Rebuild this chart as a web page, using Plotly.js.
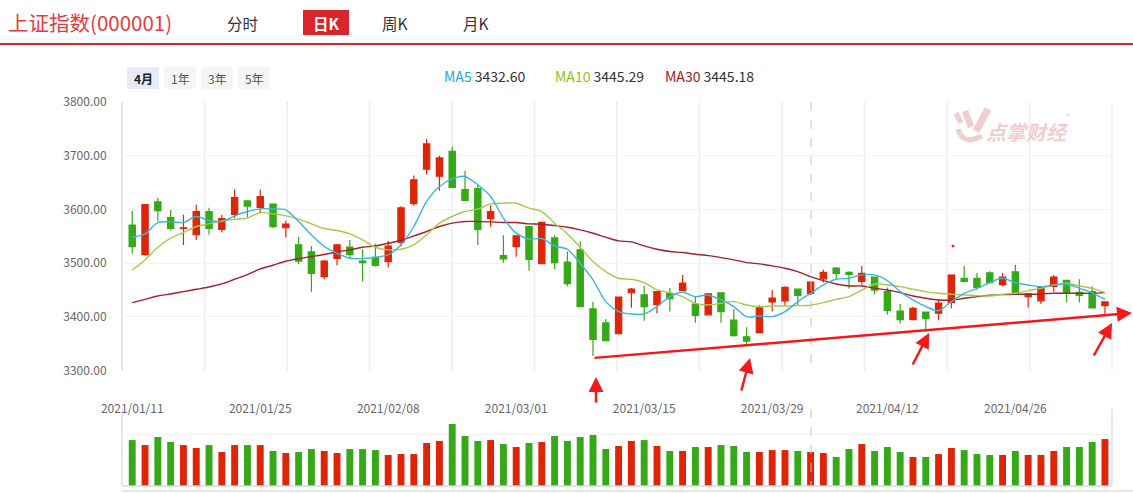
<!DOCTYPE html>
<html><head><meta charset="utf-8">
<script src="https://cdn.plot.ly/plotly-3.0.1.min.js"></script>
<style>html,body{margin:0;padding:0;background:#fff;}#chart{width:1133px;height:493px;}</style>
</head><body><div id="chart"></div>
<script>
const titleText = '上证指数(000001)';
const tabs = ['分时', '日K', '周K', '月K'];
const periodButtons = ['4月', '1年', '3年', '5年'];
const legendNames = ['MA5', 'MA10', 'MA30'];
const legendValues = ['3432.60', '3445.29', '3445.18'];
const brandText = '点掌财经';

const dates = [
 '2021/01/11','2021/01/12','2021/01/13','2021/01/14','2021/01/15','2021/01/18','2021/01/19','2021/01/20','2021/01/21','2021/01/22',
 '2021/01/25','2021/01/26','2021/01/27','2021/01/28','2021/01/29','2021/02/01','2021/02/02','2021/02/03','2021/02/04','2021/02/05',
 '2021/02/08','2021/02/09','2021/02/10','2021/02/18','2021/02/19','2021/02/22','2021/02/23','2021/02/24','2021/02/25','2021/02/26',
 '2021/03/01','2021/03/02','2021/03/03','2021/03/04','2021/03/05','2021/03/08','2021/03/09','2021/03/10','2021/03/11','2021/03/12',
 '2021/03/15','2021/03/16','2021/03/17','2021/03/18','2021/03/19','2021/03/22','2021/03/23','2021/03/24','2021/03/25','2021/03/26',
 '2021/03/29','2021/03/30','2021/03/31','2021/04/01','2021/04/02','2021/04/06','2021/04/07','2021/04/08','2021/04/09','2021/04/12',
 '2021/04/13','2021/04/14','2021/04/15','2021/04/16','2021/04/19','2021/04/20','2021/04/21','2021/04/22','2021/04/23','2021/04/26',
 '2021/04/27','2021/04/28','2021/04/29','2021/04/30','2021/05/06','2021/05/07','2021/05/10'];

const openP = [3571,3516,3614,3585,3565,3553,3596,3563,3591,3616,
 3604,3610,3566,3534,3521,3475,3509,3530,3504,3511,
 3503,3539,3611,3675,3662,3708,3637,3639,3583,3514,
 3531,3568,3499,3547,3502,3525,3415,3389,3369,3445,
 3441,3423,3444,3449,3424,3404,3445,3394,3363,3371,
 3428,3430,3452,3444,3471,3491,3483,3466,3474,3447,
 3411,3395,3409,3407,3427,3472,3472,3482,3460,3484,
 3438,3430,3457,3468,3446,3447,3421];
const highP = [3597,3610,3622,3599,3590,3609,3603,3590,3637,3617,
 3637,3611,3579,3549,3532,3506,3536,3543,3526,3536,
 3542,3606,3663,3731,3700,3717,3672,3646,3608,3552,
 3552,3569,3577,3552,3522,3540,3428,3396,3438,3454,
 3458,3448,3454,3478,3439,3444,3445,3415,3381,3422,
 3450,3457,3452,3466,3488,3493,3485,3495,3475,3455,
 3424,3419,3410,3432,3478,3495,3482,3485,3482,3497,
 3443,3458,3478,3469,3470,3457,3428];
const lowP = [3518,3514,3578,3561,3534,3543,3553,3557,3584,3585,
 3593,3565,3548,3498,3447,3470,3496,3509,3466,3494,
 3492,3531,3607,3665,3635,3640,3616,3534,3568,3501,
 3512,3486,3499,3489,3457,3419,3328,3355,3368,3417,
 3393,3407,3410,3448,3389,3404,3389,3363,3346,3370,
 3410,3422,3422,3441,3464,3471,3453,3460,3442,3404,
 3388,3394,3373,3394,3416,3464,3450,3463,3457,3443,
 3417,3424,3447,3427,3427,3417,3403];
const closeP = [3531,3609,3598,3565,3566,3596,3565,3583,3622,3606,
 3624,3568,3573,3504,3481,3504,3534,3516,3501,3496,
 3532,3603,3655,3722,3696,3641,3617,3563,3596,3508,
 3551,3507,3576,3501,3462,3419,3358,3356,3437,3452,
 3419,3447,3434,3463,3403,3443,3410,3365,3355,3417,
 3435,3455,3440,3465,3483,3481,3479,3481,3450,3412,
 3395,3416,3397,3426,3478,3466,3455,3464,3474,3444,
 3443,3456,3474,3445,3440,3417,3428];
const volume = [358,319,382,343,319,296,319,265,319,319,
 319,273,257,265,288,273,257,288,288,280,
 242,249,249,335,351,483,390,351,358,327,
 304,335,343,390,351,382,397,288,312,351,
 358,312,273,273,304,304,319,312,265,265,
 280,280,273,265,257,226,288,327,273,304,
 265,226,226,249,296,280,249,242,242,273,
 242,242,273,304,304,343,366];
const ma5 = [3548.4,3554.6,3575.7,3577.0,3575.7,3586.9,3579.4,3577.6,3588.1,3596.2,
 3601.2,3601.2,3599.3,3577.6,3552.7,3531.0,3518.6,3509.2,3508.6,3511.1,
 3515.5,3534.1,3568.3,3614.9,3642.8,3657.1,3661.4,3645.9,3624.2,3584.0,
 3556.0,3544.7,3545.9,3532.2,3526.0,3499.9,3468.9,3428.5,3410.0,3405.5,
 3405.5,3419.2,3437.8,3445.9,3437.8,3440.9,3431.6,3419.2,3400.5,3401.8,
 3400.5,3409.9,3428.5,3444.0,3459.5,3470.1,3472.0,3478.2,3478.2,3467.6,
 3447.1,3431.6,3419.2,3411.7,3428.5,3444.0,3453.3,3463.9,3472.0,3463.9,
 3459.5,3456.4,3459.5,3461.4,3453.3,3445.0,3432.6];
const ma10 = [3487.5,3506.1,3529.7,3546.5,3557.1,3568.3,3573.2,3578.8,3581.9,3583.8,
 3594.4,3591.9,3588.1,3581.9,3573.2,3564.5,3560.8,3554.6,3543.4,3529.7,
 3524.8,3526.0,3534.1,3552.7,3574.5,3586.9,3596.2,3600.6,3610.5,3611.7,
 3611.7,3602.4,3596.2,3574.5,3554.6,3529.7,3503.0,3484.4,3472.0,3470.1,
 3463.9,3450.2,3445.3,3437.8,3425.4,3422.3,3425.4,3428.5,3422.3,3419.2,
 3420.4,3420.4,3421.0,3421.7,3426.6,3432.8,3437.8,3450.0,3461.4,3459.5,
 3456.4,3451.5,3447.1,3444.0,3442.2,3440.9,3439.7,3439.1,3442.2,3444.0,
 3449.0,3453.3,3459.5,3462.7,3457.7,3453.3,3445.3];
const ma30 = [3426.6,3432.8,3439.0,3442.8,3447.1,3451.5,3455.8,3461.4,3470.1,3478.8,
 3489.4,3496.2,3503.7,3508.6,3512.4,3516.1,3521.0,3524.8,3529.7,3532.2,
 3537.2,3542.2,3550.9,3559.0,3568.3,3574.5,3577.6,3577.6,3577.0,3575.7,
 3575.7,3573.2,3572.6,3570.1,3567.0,3562.0,3555.8,3548.4,3541.5,3539.7,
 3532.2,3526.0,3521.7,3519.8,3516.7,3514.2,3510.5,3506.1,3501.2,3498.7,
 3495.0,3490.6,3484.4,3475.1,3467.6,3461.4,3457.7,3457.7,3453.3,3450.2,
 3445.3,3439.0,3434.7,3431.6,3431.6,3434.7,3437.8,3440.3,3441.5,3442.2,
 3442.2,3442.8,3444.0,3444.0,3444.0,3444.0,3445.2];
const tickDates = ['2021/01/11','2021/01/25','2021/02/08','2021/03/01','2021/03/15','2021/03/29','2021/04/12','2021/04/26'];
const priceTicks = [3300,3400,3500,3600,3700,3800];

const RED = '#de2508', GREEN = '#35a917';
const C_MA5 = '#3db6dc', C_MA10 = '#a7ca4e', C_MA30 = '#a2212a';
const L_MA = ['#29a6d6', '#8cc21d', '#9c1b1b'];
const ARROW = '#f41818';

// pixel -> paper helpers (plot area: x 122..1112, y 102..486)
const X = p => (p - 122) / 990;
const Y = p => (486 - p) / 384;

const volColors = closeP.map((c, i) => c >= openP[i] ? RED : GREEN);

const traces = [
  {type: 'bar', x: dates, y: volume, xaxis: 'x2', yaxis: 'y2', width: 0.54,
   marker: {color: volColors, line: {width: 0}}, hoverinfo: 'skip'},
  {type: 'candlestick', x: dates, open: openP, high: highP, low: lowP, close: closeP,
   xaxis: 'x', yaxis: 'y', whiskerwidth: 0,
   increasing: {line: {color: RED, width: 1.2}, fillcolor: RED},
   decreasing: {line: {color: GREEN, width: 1.2}, fillcolor: GREEN}, hoverinfo: 'skip'},
  {type: 'scatter', mode: 'lines', x: dates, y: ma30, line: {color: C_MA30, width: 1.4, shape: 'spline', smoothing: 0.8}, hoverinfo: 'skip'},
  {type: 'scatter', mode: 'lines', x: dates, y: ma10, line: {color: C_MA10, width: 1.4, shape: 'spline', smoothing: 0.8}, hoverinfo: 'skip'},
  {type: 'scatter', mode: 'lines', x: dates, y: ma5, line: {color: C_MA5, width: 1.4, shape: 'spline', smoothing: 0.8}, hoverinfo: 'skip'}
];

const shapes = [];
const line = (x0, y0, x1, y1, color, width, extra) => Object.assign({type: 'line', xref: 'paper', yref: 'paper',
  x0: X(x0), y0: Y(y0), x1: X(x1), y1: Y(y1), line: {color: color, width: width}}, extra || {});
// header red rule
shapes.push(line(0, 44, 1133, 44, '#d8262c', 2));
// tab highlight
shapes.push({type: 'rect', xref: 'paper', yref: 'paper', x0: X(303), x1: X(349), y0: Y(35), y1: Y(10), fillcolor: '#d9252b', line: {width: 0}});
// period buttons
const btnBoxes = [[127, 159], [164, 196], [201, 233], [238, 270]];
btnBoxes.forEach((b, i) => shapes.push({type: 'rect', xref: 'paper', yref: 'paper', x0: X(b[0]), x1: X(b[1]), y0: Y(89), y1: Y(67),
  fillcolor: i === 0 ? '#e6ebf4' : '#f5f5f5', line: {width: 0}}));
// vertical grid in price panel
for (let k = 0; k <= 12; k++) {
  const px = 122 + k * 990 / 12;
  shapes.push(line(px, 102, px, 370.7, k === 0 ? '#dbe2ec' : '#ebeff4', 1.6, {layer: 'below'}));
}
// volume panel borders
shapes.push(line(122, 409, 122, 486, '#dbe2ec', 1.5, {layer: 'below'}));
shapes.push(line(1112, 409, 1112, 486, '#dbe2ec', 1.5, {layer: 'below'}));
shapes.push(line(122, 486, 1112, 486, '#d3dbe6', 1.5));
shapes.push(line(122, 491, 1133, 491, '#cfcfcf', 1.2));
// crosshair
shapes.push(line(811, 102, 811, 370.7, '#c4c4c4', 1, {line: {color: '#c4c4c4', width: 1, dash: 'dash'}}));
shapes.push(line(811, 409, 811, 486, '#c4c4c4', 1, {line: {color: '#c4c4c4', width: 1, dash: 'dash'}}));
// stray red dot
shapes.push({type: 'circle', xref: 'paper', yref: 'paper', x0: X(951.5), x1: X(954.5), y0: Y(247.5), y1: Y(244.5), fillcolor: '#f03030', line: {width: 0}});
// watermark icon (pale)
const WM = '#f2cdd0';
shapes.push(line(956, 113, 961, 123, WM, 5.5));
shapes.push(line(965, 111, 971, 127, WM, 6.5));
shapes.push(line(988, 109, 976, 131, WM, 7.5));
const pth = pts => pts.map((p, i) => (i === 0 ? 'M' : (i === 1 ? 'Q' : '')) + X(p[0]) + ',' + Y(p[1]) + ' ').join('');
shapes.push({type: 'path', xref: 'paper', yref: 'paper', path: pth([[958, 129], [963, 146], [982, 136]]), line: {color: WM, width: 5}});

const annotations = [];
const txt = (t, x, y, opts) => Object.assign({xref: 'paper', yref: 'paper', x: X(x), y: Y(y), text: t, showarrow: false,
  xanchor: 'center', yanchor: 'middle'}, opts || {});
annotations.push(txt(titleText, 6, 22, {xanchor: 'left', font: {size: 20.5, color: '#e23c40'}}));
const tabCenters = [242, 326, 395, 476];
tabs.forEach((t, i) => annotations.push(txt(i === 1 ? '<b>' + t + '</b>' : t, tabCenters[i], 23,
  {font: {size: 15.5, color: i === 1 ? '#ffffff' : '#333333'}})));
periodButtons.forEach((t, i) => annotations.push(txt(i === 0 ? '<b>' + t + '</b>' : t, (btnBoxes[i][0] + btnBoxes[i][1]) / 2, 78,
  {font: {size: 12, color: i === 0 ? '#222222' : '#555555'}})));
const legX = [442, 553, 663];
legendNames.forEach((n, i) => annotations.push(txt('<span style="color:' + L_MA[i] + '">' + n + '</span> ' + legendValues[i], legX[i], 76,
  {xanchor: 'left', font: {size: 14, color: '#333333'}})));
annotations.push(txt('<b><i>' + brandText + '</i></b>', 1027, 131, {font: {size: 20, color: WM}}));
annotations.push(txt('®', 1068, 116, {font: {size: 9, color: WM}}));
// red arrows
const arrow = (hx, hy, tx, ty) => ({xref: 'paper', yref: 'paper', x: X(hx), y: Y(hy), ax: tx - hx, ay: ty - hy,
  axref: 'pixel', ayref: 'pixel', text: '', showarrow: true, arrowhead: 2, arrowsize: 1.2, arrowwidth: 2.5,
  arrowcolor: ARROW, standoff: 0, startstandoff: 0});
annotations.push(arrow(1133, 313, 593, 358));
annotations.push(arrow(596, 377, 596, 404));
annotations.push(arrow(750, 358, 741, 392));
annotations.push(arrow(929, 333, 912, 366));
annotations.push(arrow(1112, 323, 1093, 357));

const layout = {
  width: 1133, height: 493,
  margin: {l: 122, r: 21, t: 102, b: 7},
  paper_bgcolor: '#ffffff', plot_bgcolor: '#ffffff',
  font: {family: '"Noto Sans CJK SC", "Noto Sans", sans-serif', color: '#333'},
  showlegend: false, dragmode: false, hovermode: false,
  xaxis: {type: 'category', range: [-0.8, 76.55], anchor: 'y', domain: [0, 1],
    rangeslider: {visible: false}, showgrid: false, zeroline: false, showline: false,
    tickmode: 'array', tickvals: tickDates, ticktext: tickDates,
    ticks: 'outside', ticklen: 27, tickcolor: 'rgba(0,0,0,0)',
    tickfont: {size: 12, color: '#666666'}},
  xaxis2: {type: 'category', matches: 'x', anchor: 'y2', domain: [0, 1], showticklabels: false,
    showgrid: false, zeroline: false, showline: false, ticks: '', rangeslider: {visible: false}},
  yaxis: {domain: [0.3003, 1], range: [3300, 3800], tickmode: 'array', tickvals: priceTicks,
    ticktext: priceTicks.map(v => v.toFixed(2)), gridcolor: '#f3f3f3', gridwidth: 1, zeroline: false, showline: false,
    ticks: 'outside', ticklen: 12, tickcolor: 'rgba(0,0,0,0)', tickfont: {size: 12, color: '#666666'}},
  yaxis2: {domain: [0, 0.2005], range: [0, 600], tickmode: 'linear', tick0: 0, dtick: 200, showticklabels: false,
    gridcolor: '#f3f3f3', zeroline: false, showline: false},
  shapes: shapes,
  annotations: annotations
};

Plotly.newPlot('chart', traces, layout, {displayModeBar: false, staticPlot: true});
</script>
</body></html>
